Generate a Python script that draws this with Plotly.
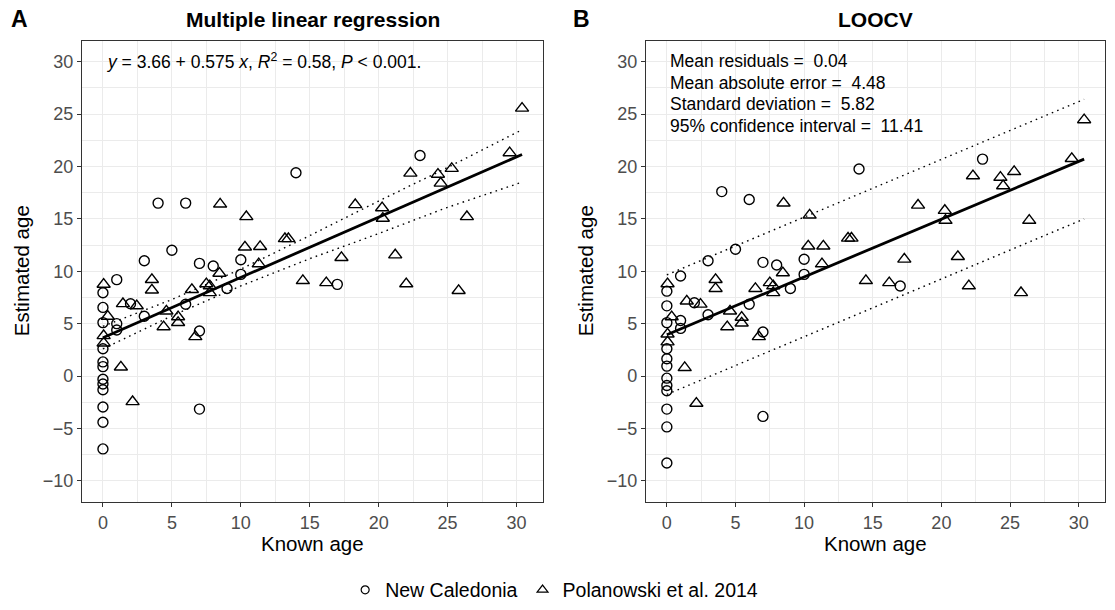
import plotly.graph_objects as go

# ---- New Caledonia (circles): known age, MLR estimate, LOOCV estimate ----
nc_known = [14, 4, 6, 5, 3, 7, 8, 10, 1, 10, 0, 0, 2, 3, 6, 9, 0, 1, 1, 7,
            0, 0, 0, 0, 0, 0, 0, 7, 0, 0, 23, 17]
nc_mlr = [19.4, 16.5, 16.5, 12.0, 11.0, 10.75, 10.5, 11.1, 9.2, 9.7, 7.95, 6.55,
          6.9, 5.7, 6.85, 8.35, 5.1, 5.0, 4.4, 4.3, 2.6, 1.35, 0.9, -0.3, -0.75,
          -1.3, -2.95, -3.15, -4.4, -6.95, 21.05, 8.75]
nc_loocv = [19.75, 17.6, 16.85, 12.1, 11.0, 10.85, 10.6, 11.15, 9.55, 9.7, 8.1, 6.7,
            7.0, 5.85, 6.85, 8.35, 5.1, 5.3, 4.55, 4.2, 2.6, 1.65, 0.95, -0.2, -0.9,
            -1.4, -3.15, -3.85, -4.85, -8.3, 20.7, 8.6]

# ---- Polanowski et al. 2014 (triangles) ----
pol_known = [30.4, 29.5, 22.3, 24.3, 25.3, 24.5, 18.3, 20.25, 20.3, 26.4, 17.3, 21.2,
             14.5, 16.2, 22.0, 25.8, 8.5, 10.4, 10.3, 11.4, 13.2, 13.45, 11.3, 8.45,
             3.55, 3.55, 0.05, 1.45, 2.45, 4.6, 6.45, 7.5, 7.75, 7.75, 0.35, 0.05,
             0.05, 5.45, 5.45, 4.4, 6.7, 1.3, 2.15]
pol_mlr = [25.55, 21.3, 19.35, 19.25, 19.8, 18.4, 16.35, 16.05, 15.05, 15.2, 11.3, 11.55,
           9.1, 8.9, 8.8, 8.15, 16.4, 15.2, 12.3, 12.35, 13.1, 13.1, 10.7, 9.8,
           9.2, 8.2, 8.75, 6.9, 6.7, 6.2, 8.25, 8.8, 8.6, 7.95, 5.7, 3.85,
           3.15, 5.65, 5.1, 4.7, 3.75, 0.85, -2.45]
pol_loocv = [24.45, 20.75, 19.1, 18.95, 19.5, 18.15, 16.3, 15.8, 14.85, 14.85, 11.15, 11.4,
             9.1, 8.9, 8.6, 7.95, 16.5, 15.35, 12.4, 12.4, 13.15, 13.15, 10.7, 9.85,
             9.2, 8.35, 8.8, 7.15, 6.85, 6.2, 8.35, 8.9, 8.6, 7.95, 5.65, 4.0,
             3.25, 5.6, 5.05, 4.7, 3.75, 0.8, -2.6]

# ---- Fitted lines ----
mlr_intercept, mlr_slope = 3.66, 0.575
mlr_band_x = [0, 5, 10, 15, 20, 25, 30.4]
mlr_band_upper = [4.75, 7.3, 10.2, 13.4, 16.7, 19.9, 23.5]
mlr_band_lower = [2.6, 5.75, 8.6, 11.2, 13.6, 16.1, 18.5]

loocv_fit_x = [0, 30.4]
loocv_fit_y = [3.95, 20.7]
loocv_ci_width = 11.41

x_ticks = [0, 5, 10, 15, 20, 25, 30]
y_ticks = [-10, -5, 0, 5, 10, 15, 20, 25, 30]
x_range = [-1.52, 31.92]
y_range = [-12, 32]

W, H = 1115, 610
panel_a = (82, 543)
panel_b = (646, 1105)
panel_top, panel_bottom = 41, 506

def px(x):
    return x / W

def py(y):
    return 1 - y / H

fig = go.Figure()

marker_circle = dict(symbol="circle-open", size=10, color="black", line=dict(width=1.4, color="black"))
marker_tri = dict(symbol="triangle-up-open", size=11.5, color="black", line=dict(width=1.4, color="black"))

dot = "1.6px,4.2px"

# Panel A
fit_a_x = [min(nc_known + pol_known), max(nc_known + pol_known)]
fig.add_trace(go.Scatter(x=mlr_band_x, y=mlr_band_upper, mode="lines",
                         line=dict(color="black", width=1.4, dash=dot),
                         showlegend=False, xaxis="x", yaxis="y"))
fig.add_trace(go.Scatter(x=mlr_band_x, y=mlr_band_lower, mode="lines",
                         line=dict(color="black", width=1.4, dash=dot),
                         showlegend=False, xaxis="x", yaxis="y"))
fig.add_trace(go.Scatter(x=nc_known, y=nc_mlr, mode="markers", marker=marker_circle,
                         showlegend=False, xaxis="x", yaxis="y"))
fig.add_trace(go.Scatter(x=pol_known, y=pol_mlr, mode="markers", marker=marker_tri,
                         showlegend=False, xaxis="x", yaxis="y"))
fig.add_trace(go.Scatter(x=fit_a_x, y=[mlr_intercept + mlr_slope * v for v in fit_a_x],
                         mode="lines", line=dict(color="black", width=2.8),
                         showlegend=False, xaxis="x", yaxis="y"))

# Panel B
half = loocv_ci_width / 2
fig.add_trace(go.Scatter(x=loocv_fit_x, y=[v + half for v in loocv_fit_y], mode="lines",
                         line=dict(color="black", width=1.4, dash=dot),
                         showlegend=False, xaxis="x2", yaxis="y2"))
fig.add_trace(go.Scatter(x=loocv_fit_x, y=[v - half for v in loocv_fit_y], mode="lines",
                         line=dict(color="black", width=1.4, dash=dot),
                         showlegend=False, xaxis="x2", yaxis="y2"))
fig.add_trace(go.Scatter(x=nc_known, y=nc_loocv, mode="markers", marker=marker_circle,
                         showlegend=False, xaxis="x2", yaxis="y2"))
fig.add_trace(go.Scatter(x=pol_known, y=pol_loocv, mode="markers", marker=marker_tri,
                         showlegend=False, xaxis="x2", yaxis="y2"))
fig.add_trace(go.Scatter(x=loocv_fit_x, y=loocv_fit_y, mode="lines",
                         line=dict(color="black", width=2.8),
                         showlegend=False, xaxis="x2", yaxis="y2"))

# Legend entries
fig.add_trace(go.Scatter(x=[None], y=[None], mode="markers", name="New Caledonia",
                         marker=dict(symbol="circle-open", size=8, color="black",
                                     line=dict(width=1.2, color="black"))))
fig.add_trace(go.Scatter(x=[None], y=[None], mode="markers", name="Polanowski et al. 2014",
                         marker=dict(symbol="triangle-up-open", size=9.5, color="black",
                                     line=dict(width=1.2, color="black"))))

font = "Liberation Sans, Arial"
grid = "#EBEBEB"
axis_common = dict(showline=True, mirror=True, linecolor="#333333", linewidth=1.2,
                   ticks="outside", ticklen=4, tickcolor="#333333", tickwidth=1.1,
                   tickfont=dict(family=font, size=18, color="#4D4D4D"),
                   showgrid=True, gridcolor=grid, gridwidth=1.1, zeroline=False,
                   fixedrange=True)

def xaxis(domain, anchor):
    return dict(axis_common, domain=domain, range=x_range, tickmode="array",
                tickvals=x_ticks, anchor=anchor,
                minor=dict(dtick=2.5, tick0=0, showgrid=True, gridcolor=grid, gridwidth=0.8))

def yaxis(anchor):
    return dict(axis_common, domain=[py(panel_bottom), py(panel_top)], range=y_range,
                tickmode="array", tickvals=y_ticks, anchor=anchor,
                minor=dict(dtick=2.5, tick0=0, showgrid=True, gridcolor=grid, gridwidth=0.8))

annotations = []

def text(x, y, s, size, xanchor="center", **kw):
    d = dict(x=px(x), y=py(y), xref="paper", yref="paper", text=s, showarrow=False,
             xanchor=xanchor, yanchor="middle",
             font=dict(family=font, size=size, color="black"))
    d.update(kw)
    annotations.append(d)

# Panel titles and tags
text(312.5, 20, "<b>Multiple linear regression</b>", 21)
text(875.5, 20, "<b>LOOCV</b>", 21)
text(19, 19, "<b>A</b>", 23)
text(581, 19, "<b>B</b>", 23)

# Axis titles
for cx in (312.5, 875.5):
    text(cx, 548, "Known age", 20.5)
for cx in (21, 585):
    text(cx, 273.5, "Estimated age", 20.5, textangle=-90)

# Statistics
text(105, 62, "<i>y</i> = 3.66 + 0.575 <i>x</i>, <i>R</i><sup>2</sup> = 0.58, <i>P</i> &lt; 0.001.",
     17.5, xanchor="left")
stats = ["Mean residuals =\u00a0 0.04", "Mean absolute error =\u00a0 4.48",
         "Standard deviation =\u00a0 5.82", "95% confidence interval =\u00a0 11.41"]
for i, s in enumerate(stats):
    text(668, 62 + i * 21.6, s, 17.5, xanchor="left")

fig.update_layout(
    width=W, height=H,
    margin=dict(l=0, r=0, t=0, b=0),
    paper_bgcolor="white", plot_bgcolor="white",
    xaxis=xaxis([px(panel_a[0]), px(panel_a[1])], "y"),
    yaxis=yaxis("x"),
    xaxis2=xaxis([px(panel_b[0]), px(panel_b[1])], "y2"),
    yaxis2=yaxis("x2"),
    showlegend=True,
    legend=dict(orientation="h", x=0.497, xanchor="center", y=py(595), yanchor="middle",
                font=dict(family=font, size=19.5, color="black"),
                itemwidth=30, bgcolor="rgba(0,0,0,0)"),
    annotations=annotations,
)

fig.write_html("out.html")
